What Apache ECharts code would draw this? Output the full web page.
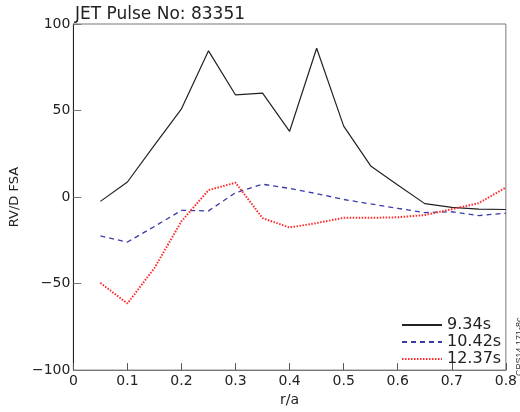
<!DOCTYPE html>
<html>
<head>
<meta charset="utf-8">
<script src="https://cdn.jsdelivr.net/npm/echarts@6/dist/echarts.min.js"></script>
<style>
  html, body { margin: 0; padding: 0; background: #fff; }
  #main { width: 520px; height: 412px; }
</style>
</head>
<body>
<div id="main"></div>
<script>
var myChart = echarts.init(document.getElementById('main'));

// r/a positions
var ra = [0.05, 0.1, 0.15, 0.2, 0.25, 0.3, 0.35, 0.4, 0.45, 0.5, 0.55, 0.6, 0.65, 0.7, 0.75, 0.8];
var names = ['9.34s', '10.42s', '12.37s'];
var v934 = [-2.5, 8.7, 30, 51, 84.5, 59, 60, 38, 86, 41, 18, 7, -3.8, -6, -7, -7.2];
var v1042 = [-22.5, -26, -17, -7.7, -8, 2.5, 7.4, 5, 2, -1.4, -4, -6.5, -9, -8.5, -10.7, -9.3];
var v1237 = [-49.6, -61.5, -41, -14, 4, 8.3, -12.2, -17.6, -15, -12, -12, -11.7, -10.4, -7, -3.5, 5.5];

function pairs(vals) {
  return ra.map(function (x, i) { return [x, vals[i]]; });
}

var font = 'DejaVu Sans';

var option = {
  animation: false,
  backgroundColor: '#fff',
  textStyle: { fontFamily: font },
  title: {
    text: 'JET Pulse No: 83351',
    left: 75,
    top: 6,
    padding: 0,
    textStyle: { fontFamily: font, fontSize: 17, fontWeight: 'normal', color: '#222' }
  },
  grid: {
    left: 72, right: 11, top: 24, bottom: 31,
    show: true, borderColor: '#777', borderWidth: 1
  },
  legend: {
    orient: 'vertical',
    left: 396,
    top: 312,
    itemWidth: 40,
    itemHeight: 14,
    itemGap: 1,
    itemStyle: { opacity: 0 },
    textStyle: { fontFamily: font, fontSize: 16, color: '#222' },
    data: names
  },
  xAxis: {
    type: 'value',
    min: 0, max: 0.8, interval: 0.1,
    name: 'r/a',
    nameLocation: 'middle',
    nameGap: 20,
    nameTextStyle: { fontFamily: font, fontSize: 14, color: '#222' },
    axisLine: { onZero: false, lineStyle: { color: '#777' } },
    axisTick: { inside: true, length: 7, lineStyle: { color: '#555' } },
    axisLabel: {
      margin: 4, fontSize: 14, color: '#222', fontFamily: font,
      formatter: function (v) { return v === 0 ? '0' : v.toFixed(1); }
    },
    splitLine: { show: false }
  },
  yAxis: {
    type: 'value',
    min: -100, max: 100, interval: 50,
    name: 'RV/D FSA',
    nameLocation: 'middle',
    nameGap: 47,
    nameTextStyle: { fontFamily: font, fontSize: 13, color: '#222' },
    axisLine: { show: true, onZero: false, lineStyle: { color: '#222' } },
    axisTick: { show: true, inside: true, length: 8, lineStyle: { color: '#777' } },
    axisLabel: {
      margin: 3, fontSize: 14, color: '#222', fontFamily: font,
      formatter: function (v) { return String(v).replace('-', '\u2212'); }
    },
    splitLine: { show: false }
  },
  graphic: [
    {
      type: 'text',
      x: 515,
      y: 376,
      rotation: Math.PI / 2,
      style: { text: 'CPS14.171-8c', fontSize: 9, fontFamily: 'Liberation Sans', fill: '#333' }
    }
  ],
  series: [
    {
      name: names[0], type: 'line', symbol: 'none',
      data: pairs(v934),
      color: '#222',
      lineStyle: { width: 1.2, color: '#222' }
    },
    {
      name: names[1], type: 'line', symbol: 'none',
      data: pairs(v1042),
      color: '#3a3aa8',
      lineStyle: { width: 1.3, color: '#3a3aa8', type: [5, 4] }
    },
    {
      name: names[2], type: 'line', symbol: 'none',
      data: pairs(v1237),
      color: '#ff2a2a',
      lineStyle: { width: 2, color: '#ff2a2a', type: [1.5, 1.5] }
    }
  ]
};

myChart.setOption(option);
</script>
</body>
</html>
